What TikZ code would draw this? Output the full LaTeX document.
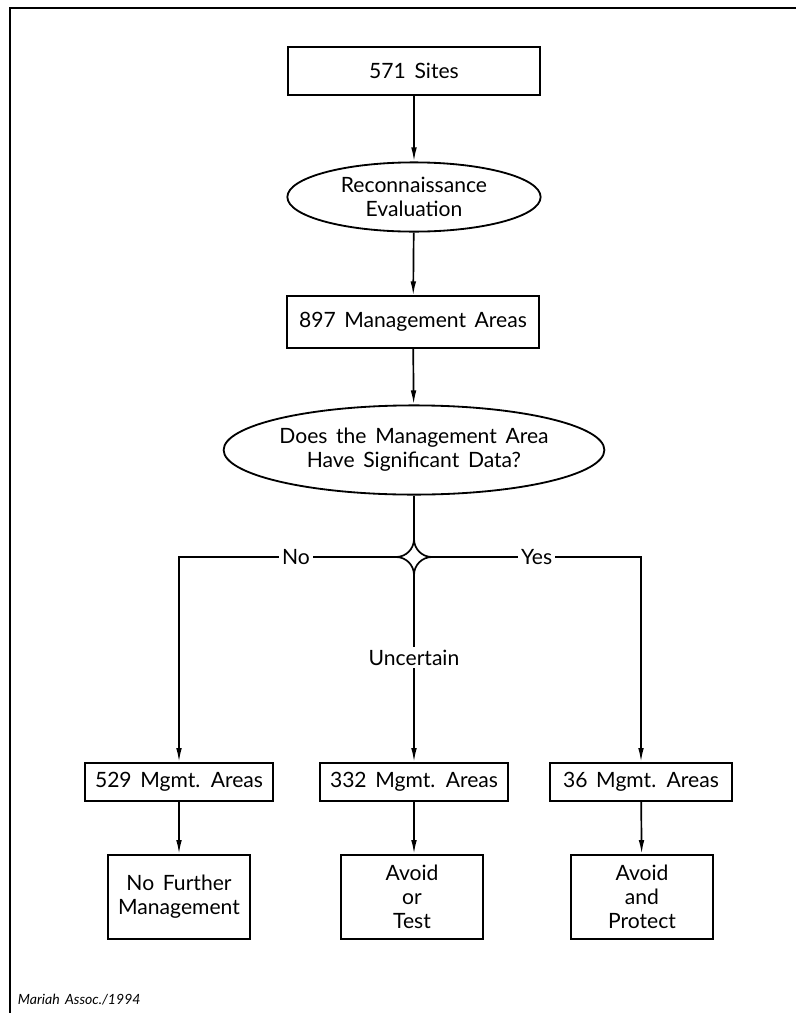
\documentclass[tikz,border=0pt]{standalone}
\usepackage{fontspec}
\setmainfont{Lato}[WordSpace=1.6]
\usetikzlibrary{shapes.geometric,arrows.meta}
\tikzset{
  box/.style={draw, line width=1.3pt, align=center, inner sep=0pt},
  ellip/.style={draw, ellipse, line width=1.3pt, align=center, inner sep=0pt},
  flow/.style={line width=1.2pt, -{Latex[length=10pt,width=4pt]}},
  plain/.style={line width=1.2pt},
  lbl/.style={fill=white, inner sep=2pt},
}

\begin{document}
\begin{tikzpicture}[x=0.025cm, y=-0.025cm, font=\fontsize{15}{17}\selectfont]
		\useasboundingbox (0,0) rectangle (796,1013);
		% frame
		\draw[line width=1.5pt] (10,1013) -- (10,8) -- (796,8);

		% main column
		\node[box, minimum width=6.3cm, minimum height=1.2cm] (sites) at (414,71) {571 Sites};
		\node[ellip, minimum width=6.33cm, minimum height=1.73cm] (recon) at (414,197) {Reconnaissance\\Evaluation};
		\node[box, minimum width=6.28cm, minimum height=1.28cm] (areas) at (413,322) {897 Management Areas};
		\node[ellip, minimum width=8.7cm, minimum height=2.23cm] (quest) at (414,450) {Does the Management Area\\Have Significant Data?};
		\node[minimum size=0.9cm, inner sep=0pt] (dec) at (414,557) {};
		\draw[plain, shift={(dec)}] (0,-18) .. controls (0,-8) and (8,0) .. (18,0)
			.. controls (8,0) and (0,8) .. (0,18)
			.. controls (0,8) and (-8,0) .. (-18,0)
			.. controls (-8,0) and (0,-8) .. cycle;
		\coordinate (cl) at (179,557);
		\coordinate (cr) at (641,557);

		% results
		\node[box, minimum width=4.7cm, minimum height=0.95cm] (no) at (179,782) {529 Mgmt. Areas};
		\node[box, minimum width=4.7cm, minimum height=0.95cm] (unc) at (414,782) {332 Mgmt. Areas};
		\node[box, minimum width=4.53cm, minimum height=0.95cm] (yes) at (641,782) {36 Mgmt. Areas};
		\node[box, minimum width=3.55cm, minimum height=2.1cm] (nofm) at (179,897) {No Further\\Management};
		\node[box, minimum width=3.55cm, minimum height=2.1cm] (test) at (412,897) {Avoid\\or\\Test};
		\node[box, minimum width=3.55cm, minimum height=2.1cm] (prot) at (642,897) {Avoid\\and\\Protect};

		% connectors
		\draw[flow] (sites) -- (recon);
		\draw[flow] (recon) -- (areas);
		\draw[flow] (areas) -- (quest);
		\draw[plain] (quest.south) -- (dec.north);
		\draw[flow] (dec.west) -- node[lbl, pos=0.46] {No} (cl) -- (no.north);
		\draw[flow] (dec.east) -- node[lbl] {Yes} (cr) -- (yes.north);
		\draw[flow] (dec.south) -- node[lbl, pos=0.44] {Uncertain} (unc.north);
		\draw[flow] (no) -- (nofm);
		\draw[flow] (unc.south) -- (test.north -| unc.south);
		\draw[flow] (yes) -- (prot);

		\node[anchor=base west, font=\fontsize{10}{12}\selectfont\itshape] (credit) at (13,1004) {Mariah Assoc./1994};
	\end{tikzpicture}
\end{document}
